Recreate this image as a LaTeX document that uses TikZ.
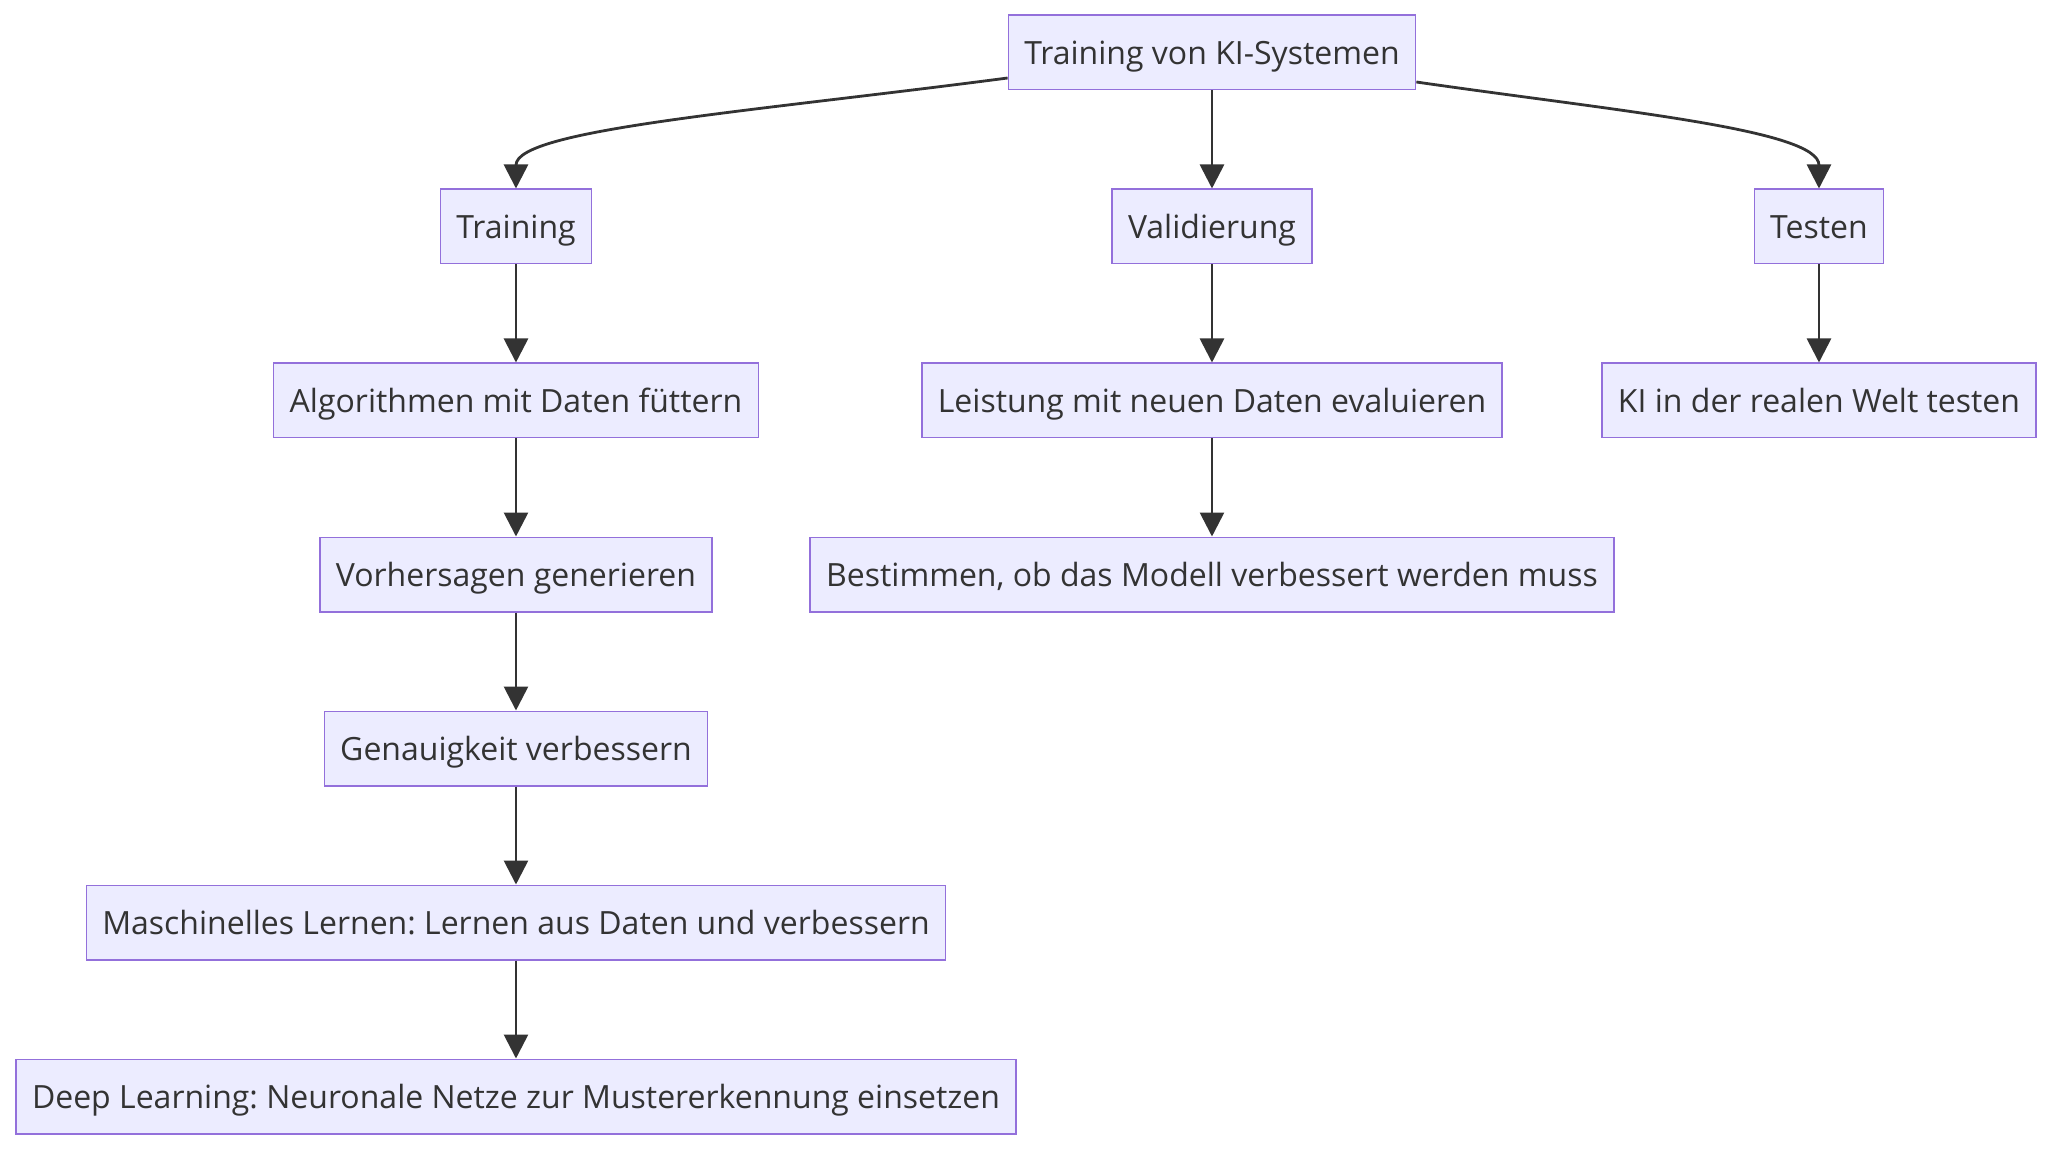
\documentclass[tikz,border=0pt]{standalone}
\usepackage{fontspec}
\setmainfont{Open Sans}
\usepackage{tikz}
\usetikzlibrary{arrows.meta}
\definecolor{boxfill}{HTML}{ECECFF}
\definecolor{boxline}{HTML}{9370DB}
\definecolor{inkgray}{HTML}{333333}
\frenchspacing

\begin{document}
\begin{tikzpicture}[
	node distance = 87pt,
	boxnode/.style={rectangle, draw=boxline, fill=boxfill, line width=0.7pt, text=inkgray, minimum height=37.3pt, inner xsep=8pt, text height=14pt, text depth=2pt, font=\fontsize{16}{19}\selectfont},
	link/.style={->, draw=inkgray, line width=1.4pt},
	>={Triangle[length=12pt, width=12pt]},
	]
	\useasboundingbox (-606pt,26.25pt) rectangle (420pt,-548.75pt);
	%Nodes
	\node[boxnode]     (ki)                                         {Training von KI-Systemen};
	\node[boxnode]     (train)      [below of = ki, xshift=-348pt]  {Training};
	\node[boxnode]     (valid)      [below of = ki]                 {Validierung};
	\node[boxnode]     (test)       [below of = ki, xshift=303.5pt] {Testen};
	\node[boxnode]     (feed)       [below of = train]              {Algorithmen mit Daten füttern};
	\node[boxnode]     (predict)    [below of = feed]               {Vorhersagen generieren};
	\node[boxnode]     (improve)    [below of = predict]            {Genauigkeit verbessern};
	\node[boxnode]     (ml)         [below of = improve]            {Maschinelles Lernen: Lernen aus Daten und verbessern};
	\node[boxnode]     (dl)         [below of = ml]                 {Deep Learning: Neuronale Netze zur Mustererkennung einsetzen};
	\node[boxnode]     (evaluate)   [below of = valid]              {Leistung mit neuen Daten evaluieren};
	\node[boxnode]     (decide)     [below of = evaluate]           {Bestimmen, ob das Modell verbessert werden muss};
	\node[boxnode]     (realworld)  [below of = test]               {KI in der realen Welt testen};
	
	%Lines
	\draw[link] ([yshift=-12.75pt]ki.west) .. controls +(-129.5pt,-17pt) and +(0,29.5pt) .. (train.north);
	\draw[link] ([yshift=-14.75pt]ki.east) .. controls +(100pt,-14.5pt) and +(0,29.5pt) .. (test.north);
	\draw[link] (ki) -- (valid);
	\draw[link] (train) -- (feed);
	\draw[link] (feed) -- (predict);
	\draw[link] (predict) -- (improve);
	\draw[link] (improve) -- (ml);
	\draw[link] (ml) -- (dl);
	\draw[link] (valid) -- (evaluate);
	\draw[link] (evaluate) -- (decide);
	\draw[link] (test) -- (realworld);
\end{tikzpicture}
\end{document}
